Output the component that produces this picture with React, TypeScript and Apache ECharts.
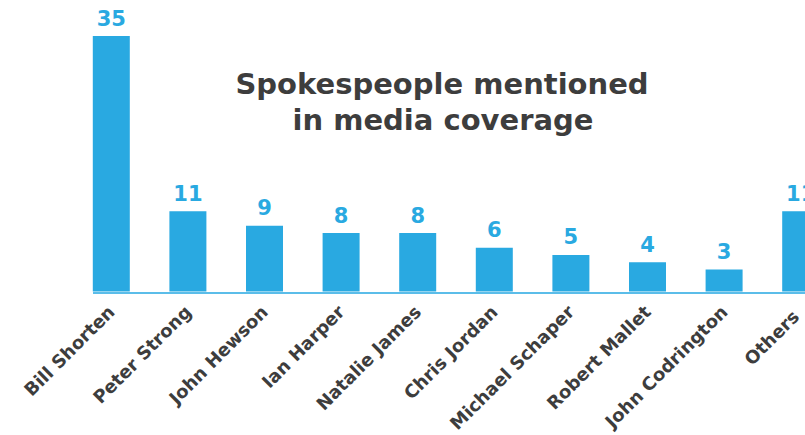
import React, { useEffect, useRef } from "react";
import * as echarts from "echarts";

const categories = [
  "Bill Shorten",
  "Peter Strong",
  "John Hewson",
  "Ian Harper",
  "Natalie James",
  "Chris Jordan",
  "Michael Schaper",
  "Robert Mallet",
  "John Codrington",
  "Others",
];
const mentions = [35, 11, 9, 8, 8, 6, 5, 4, 3, 11];
const titleLines = ["Spokespeople mentioned", "in media coverage"];

const BLUE = "#29a9e1";
const DARK = "#3d3d3d";
const FONT = "DejaVu Sans";

export default function App() {
  const ref = useRef<HTMLDivElement>(null);
  useEffect(() => {
    if (!ref.current) return;
    const chart = echarts.init(ref.current, null, { renderer: "svg" });
    const titleStyle = {
      fontFamily: FONT,
      fontWeight: "bold",
      fontSize: 29,
      lineHeight: 30,
      color: DARK,
    };
    const axisData = categories.map((c, i) =>
      i === categories.length - 1
        ? { value: c, textStyle: { padding: [0, 7, 0, 0] } }
        : c
    );
    chart.setOption({
      animation: false,
      backgroundColor: "#ffffff",
      title: [
        { text: titleLines[0], left: 437, top: 64, textAlign: "center", textStyle: titleStyle },
        { text: titleLines[1], left: 438, top: 100, textAlign: "center", textStyle: titleStyle },
      ],
      grid: { left: 73, width: 766, top: 36, bottom: 142, containLabel: false },
      xAxis: {
        type: "category",
        data: axisData,
        axisLine: { show: false },
        axisTick: { show: false },
        axisLabel: {
          interval: 0,
          rotate: 45,
          margin: 17,
          fontFamily: FONT,
          fontWeight: "bold",
          fontSize: 18,
          color: DARK,
        },
      },
      yAxis: {
        type: "value",
        min: 0,
        max: 35,
        show: false,
        splitLine: { show: false },
      },
      series: [
        {
          type: "bar",
          data: mentions,
          barWidth: 37,
          itemStyle: { color: BLUE },
          label: {
            show: true,
            position: "top",
            distance: 7,
            fontFamily: FONT,
            fontWeight: "bold",
            fontSize: 21,
            color: BLUE,
          },
        },
      ],
      graphic: [
        {
          type: "line",
          shape: { x1: 93, y1: 293, x2: 860, y2: 293 },
          style: { stroke: "#5bbde9", lineWidth: 2 },
        },
      ],
    });
    return () => chart.dispose();
  }, []);
  return (
    <div
      style={{
        position: "fixed",
        left: 0,
        top: 0,
        width: 805,
        height: 435,
        overflow: "hidden",
        background: "#ffffff",
      }}
    >
      <div ref={ref} style={{ width: 860, height: 435 }} />
    </div>
  );
}
